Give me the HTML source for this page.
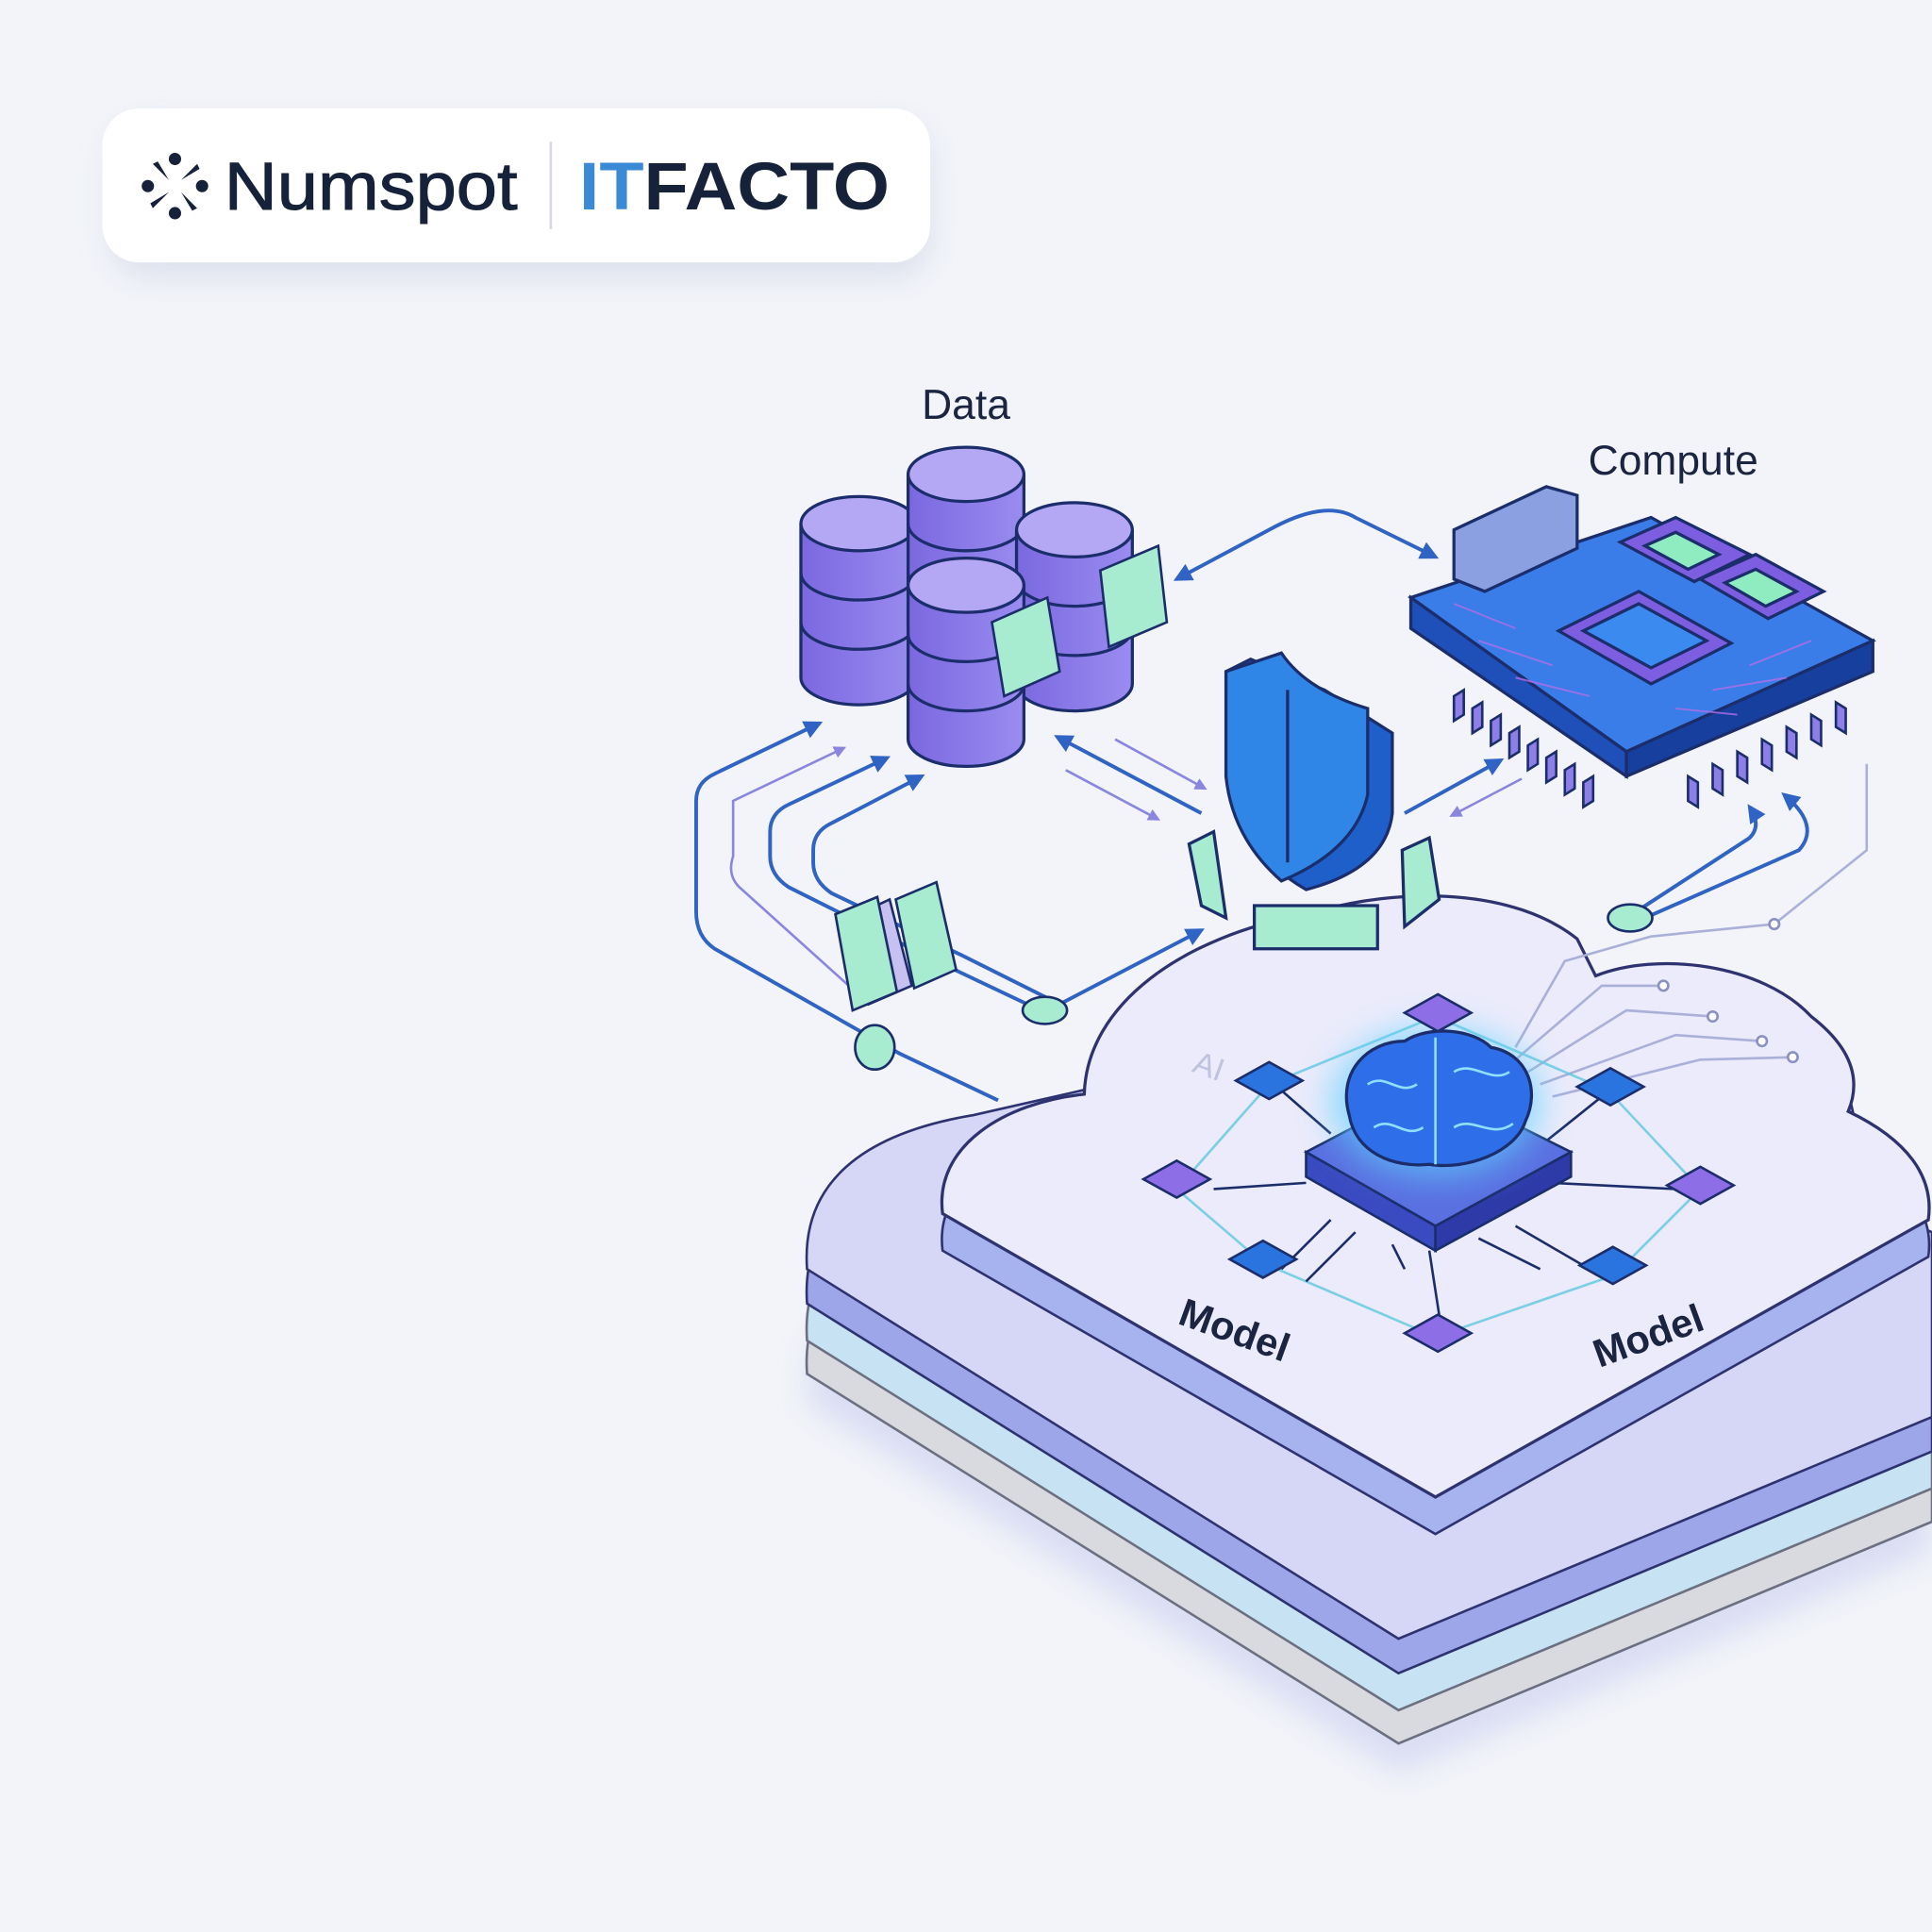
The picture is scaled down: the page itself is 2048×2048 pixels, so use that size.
<!DOCTYPE html>
<html><head><meta charset="utf-8"><style>
html,body{margin:0;padding:0;background:#f2f4f9;}
svg{display:block}
text{font-family:"Liberation Sans",sans-serif}
</style></head><body>
<svg width="2048" height="2048" viewBox="0 0 1568 1568" xmlns="http://www.w3.org/2000/svg">
<defs>
<filter id="sh" x="-20%" y="-50%" width="140%" height="200%"><feGaussianBlur stdDeviation="12"/></filter>
<filter id="glow" x="-50%" y="-50%" width="200%" height="200%"><feGaussianBlur stdDeviation="14"/></filter>
<linearGradient id="cyl" x1="0" x2="1"><stop offset="0" stop-color="#7b68e0"/><stop offset="1" stop-color="#9a8cf0"/></linearGradient>
<marker id="ar" viewBox="0 0 10 10" refX="8" refY="5" markerWidth="5" markerHeight="5" orient="auto-start-reverse"><path d="M0,0 L10,5 L0,10 Z" fill="#2f63c4"/></marker>
<marker id="ar2" viewBox="0 0 10 10" refX="8" refY="5" markerWidth="5" markerHeight="5" orient="auto-start-reverse"><path d="M0,0 L10,5 L0,10 Z" fill="#8a86e0"/></marker>
<path id="big" d="M655,1030 C650,960 700,920 790,905 L900,880 L1400,930 L1568,1000 L1568,1150 L1135,1330 Z"/>
<path id="top" d="M765,985 C758,930 815,895 880,888 C882,815 960,760 1060,742 C1140,718 1230,722 1280,762 L1295,792 C1345,772 1430,782 1470,825 C1505,852 1510,878 1500,902 C1548,925 1570,955 1565,990 L1165,1215 Z"/>
</defs>
<rect width="1568" height="1568" fill="#f2f4f9"/>

<!-- logo card -->
<rect x="90" y="100" width="665" height="125" rx="30" fill="#c8cde0" opacity="0.5" filter="url(#sh)"/>
<rect x="83" y="88" width="672" height="125" rx="30" fill="#fff"/>
<g fill="#16213a" transform="translate(142,151)">
<circle cx="0" cy="-22" r="5"/><circle cx="0" cy="22" r="5"/><circle cx="-22" cy="0" r="5"/><circle cx="22" cy="0" r="5"/>
<path d="M-5,-5 L-18,-18 L-14,-20 Z M5,-5 L18,-18 L20,-14 Z M-5,5 L-18,18 L-20,14 Z M5,5 L18,18 L14,20 Z"/>
</g>
<text x="182" y="170" font-size="55" fill="#16213a" stroke="#16213a" stroke-width="0.8" textLength="238" lengthAdjust="spacingAndGlyphs">Numspot</text>
<line x1="447" y1="115" x2="447" y2="186" stroke="#d5d8e0" stroke-width="2"/>
<text x="470" y="170" font-size="55" font-weight="bold" fill="#16213a" textLength="252" lengthAdjust="spacingAndGlyphs"><tspan fill="#3b8ad6">IT</tspan>FACTO</text>

<!-- lower stacked layers -->
<g transform="translate(0,110)"><use href="#big" fill="#c4c8ee" opacity="0.5" filter="url(#sh)"/></g>
<g transform="translate(0,85)"><use href="#big" fill="#d8dae0" stroke="#6b6f80" stroke-width="2"/></g>
<g transform="translate(0,58)"><use href="#big" fill="#c7e3f3" stroke="#6b6f80" stroke-width="2"/></g>
<g transform="translate(0,28)"><use href="#big" fill="#9ea6ea" stroke="#2e3370" stroke-width="2"/></g>
<use href="#big" fill="#d6d7f6" stroke="#2e3370" stroke-width="2"/>
<!-- top cloud -->
<g transform="translate(0,30)"><use href="#top" fill="#a7b3ef" stroke="#2e3370" stroke-width="2"/></g>
<use href="#top" fill="#ebebfb" stroke="#2e3370" stroke-width="2.5"/>

<!-- circuit lines on cloud -->
<g stroke="#aab0d8" stroke-width="2" fill="none">
<path d="M1230,860 L1300,800 L1350,800"/><path d="M1240,870 L1320,820 L1390,825"/><path d="M1250,880 L1360,840 L1430,845"/><path d="M1260,890 L1380,860 L1455,858"/><path d="M1230,850 L1270,780 L1340,760 L1440,750 L1515,690 L1515,620"/>
</g>
<g fill="#fff" stroke="#8a90c0" stroke-width="2"><circle cx="1350" cy="800" r="4"/><circle cx="1390" cy="825" r="4"/><circle cx="1430" cy="845" r="4"/><circle cx="1455" cy="858" r="4"/><circle cx="1440" cy="750" r="4"/></g>

<!-- network -->
<g stroke="#5fc8e0" stroke-width="2" fill="none" opacity="0.8">
<path d="M1030,880 L955,965 L1025,1025 L1165,1085 L1310,1035 L1380,965 L1305,885 L1165,825 Z"/>
</g>
<g stroke="#1b2d6b" stroke-width="2" fill="none">
<path d="M1060,960 L985,965 M1080,990 L1040,1030 M1100,1000 L1060,1040 M1130,1010 L1140,1030 M1160,1015 L1170,1080 M1200,1005 L1250,1030 M1230,995 L1290,1030 M1260,960 L1360,965 M1250,930 L1300,890 M1080,920 L1040,885"/>
</g>
<!-- brain chip -->
<path d="M1060,935 L1165,880 L1275,935 L1165,995 Z" fill="#5a6fe0" stroke="#1b2d6b" stroke-width="2"/>
<path d="M1060,935 L1165,995 L1165,1015 L1060,955 Z" fill="#3a4ac0" stroke="#1b2d6b" stroke-width="2"/>
<path d="M1165,995 L1275,935 L1275,955 L1165,1015 Z" fill="#2e3aa8" stroke="#1b2d6b" stroke-width="2"/>
<ellipse cx="1165" cy="895" rx="85" ry="60" fill="#5fd0ff" opacity="0.7" filter="url(#glow)"/>
<path d="M1095,905 C1085,870 1110,845 1140,845 C1160,832 1195,835 1210,850 C1240,855 1250,885 1238,910 C1230,935 1190,950 1160,945 C1130,948 1100,935 1095,905 Z" fill="#2e6ee8" stroke="#1b2d6b" stroke-width="2.5"/>
<path d="M1165,842 L1165,945 M1110,880 C1125,870 1135,890 1150,880 M1180,870 C1195,860 1210,880 1225,870 M1115,915 C1130,905 1140,925 1155,915 M1180,915 C1195,905 1210,925 1228,912" stroke="#8fe0ff" stroke-width="2" fill="none"/>
<!-- nodes -->
<g stroke="#1b2d6b" stroke-width="2">
<g fill="#2a74e0"><path d="M1003,877 L1030,862 L1057,877 L1030,892 Z"/><path d="M1280,882 L1307,867 L1334,882 L1307,897 Z"/><path d="M998,1022 L1025,1007 L1052,1022 L1025,1037 Z"/><path d="M1282,1027 L1309,1012 L1336,1027 L1309,1042 Z"/></g>
<g fill="#8e6ee6"><path d="M928,957 L955,942 L982,957 L955,972 Z"/><path d="M1353,962 L1380,947 L1407,962 L1380,977 Z"/><path d="M1140,1082 L1167,1067 L1194,1082 L1167,1097 Z"/><path d="M1140,822 L1167,807 L1194,822 L1167,837 Z"/></g>
</g>
<text x="1000" y="1090" font-size="32" font-weight="bold" fill="#1b2440" text-anchor="middle" transform="rotate(20 1000 1085)">Model</text>
<text x="1338" y="1095" font-size="32" font-weight="bold" fill="#1b2440" text-anchor="middle" transform="rotate(-20 1338 1085)">Model</text>
<text x="970" y="870" font-size="26" fill="#c0c3de" transform="rotate(20 970 860)">AI</text>

<!-- connectors -->
<g fill="none" stroke="#2f63c4" stroke-width="3">
<path d="M810,893 L730,855 L580,770 Q565,760 565,740 L565,650 Q565,635 580,628 L665,587" marker-end="url(#ar)"/>
<path d="M840,818 L760,780 L640,720 Q625,710 625,695 L625,675 Q625,660 640,653 L720,615" marker-end="url(#ar)"/>
<path d="M860,815 L780,775 L675,725 Q660,715 660,700 L660,690 Q660,675 675,668 L748,630" marker-end="url(#ar)"/>
<path d="M860,815 L975,755" marker-end="url(#ar)"/>
<path d="M955,470 L1030,430 Q1075,405 1100,420 L1165,452" marker-start="url(#ar)" marker-end="url(#ar)"/>
<path d="M858,598 L975,660" marker-start="url(#ar)"/>
<path d="M1140,660 L1218,617" marker-end="url(#ar)"/>
<path d="M1320,745 L1420,680 Q1430,670 1420,655" marker-end="url(#ar)"/>
<path d="M1335,745 L1460,690 Q1478,670 1448,645" marker-end="url(#ar)"/>
</g>
<g fill="none" stroke="#8a86e0" stroke-width="2">
<path d="M700,810 L600,720 Q590,710 595,695 L595,650 L685,607" marker-end="url(#ar2)"/>
<path d="M905,600 L978,640" marker-end="url(#ar2)"/>
<path d="M865,625 L940,665" marker-end="url(#ar2)"/>
<path d="M1235,632 L1178,662" marker-end="url(#ar2)"/>
</g>
<g fill="#a7ecd0" stroke="#1b2d6b" stroke-width="2">
<ellipse cx="848" cy="820" rx="18" ry="11"/><ellipse cx="1323" cy="745" rx="18" ry="11"/><ellipse cx="710" cy="850" rx="16" ry="18"/>
</g>
<!-- docs -->
<g stroke="#1b2d6b" stroke-width="2">
<path d="M690,745 L722,730 L740,800 L705,815 Z" fill="#c7c1f2"/>
<path d="M678,742 L712,728 L728,805 L692,820 Z" fill="#a7ecd0"/>
<path d="M727,730 L760,716 L776,787 L742,802 Z" fill="#a7ecd0"/>
</g>

<!-- cylinders -->
<g stroke="#1b2d6b" stroke-width="2.5">
<g id="cyl1"><path d="M650,425 L650,550 A47,22 0 0 0 744,550 L744,425" fill="url(#cyl)"/><ellipse cx="697" cy="425" rx="47" ry="22" fill="#b4a8f5"/><path d="M650,465 A47,22 0 0 0 744,465 M650,505 A47,22 0 0 0 744,505" fill="none"/></g>
<use href="#cyl1" transform="translate(87,-40)"/>
<use href="#cyl1" transform="translate(175,5)"/>
<use href="#cyl1" transform="translate(87,50)"/>
</g>
<g stroke="#1b2d6b" stroke-width="2">
<path d="M805,505 L850,485 L860,545 L815,565 Z" fill="#a7ecd0"/>
<path d="M893,463 L940,443 L947,505 L900,525 Z" fill="#a7ecd0"/>
</g>
<text x="784" y="340" font-size="34" fill="#1b2440" text-anchor="middle">Data</text>

<!-- shield -->
<g stroke="#1b2d6b" stroke-width="2.5">
<path d="M965,685 L985,675 L995,745 L975,735 Z" fill="#a7ecd0"/>
<path d="M1138,690 L1160,680 L1168,730 L1140,752 Z" fill="#a7ecd0"/>
<path d="M1018,735 L1118,735 L1118,770 L1018,770 Z" fill="#a7ecd0"/>
<path d="M1015,535 L1075,560 L1130,595 L1130,660 Q1125,705 1060,722 Q1005,690 995,630 L995,545 Z" fill="#1f5fc9"/>
<path d="M995,545 L1040,530 Q1060,560 1110,575 L1110,645 Q1100,690 1040,715 Q1000,680 995,630 Z" fill="#2f86e6"/>
<path d="M1045,560 L1045,700" stroke="#1b2d6b"/>
</g>

<!-- compute board -->
<g stroke="#1b2d6b" stroke-width="2.5">
<path d="M1145,485 L1340,420 L1520,520 L1320,610 Z" fill="#3a7de8"/>
<path d="M1145,485 L1320,610 L1320,630 L1145,510 Z" fill="#1f4fb8"/>
<path d="M1320,610 L1520,520 L1520,545 L1320,630 Z" fill="#163f9e"/>
<path d="M1265,512 L1330,480 L1405,522 L1340,555 Z" fill="#7e5ee0"/>
<path d="M1285,512 L1330,490 L1385,520 L1340,542 Z" fill="#3a8af0"/>
<path d="M1315,440 L1360,420 L1420,450 L1375,472 Z" fill="#7e5ee0"/>
<path d="M1335,443 L1360,432 L1395,450 L1370,462 Z" fill="#8fecc0"/>
<path d="M1380,470 L1425,450 L1480,480 L1435,502 Z" fill="#7e5ee0"/>
<path d="M1400,473 L1425,462 L1458,480 L1433,492 Z" fill="#8fecc0"/>
<path d="M1180,430 L1255,395 L1280,402 L1280,445 L1205,480 L1180,470 Z" fill="#8aa0e0"/>
</g>
<g stroke="#b06ee8" stroke-width="1.5" fill="none" opacity="0.8">
<path d="M1180,490 L1230,510 M1200,520 L1260,540 M1230,550 L1290,565 M1420,540 L1470,520 M1390,560 L1450,550 M1360,575 L1410,580"/>
</g>
<g stroke="#1b2d6b" stroke-width="2" fill="#8d7ee8">
<path d="M1180,565 l8,-5 0,20 -8,5 Z M1195,575 l8,-5 0,20 -8,5 Z M1210,585 l8,-5 0,20 -8,5 Z M1225,595 l8,-5 0,20 -8,5 Z M1240,605 l8,-5 0,20 -8,5 Z M1255,615 l8,-5 0,20 -8,5 Z M1270,625 l8,-5 0,20 -8,5 Z M1285,635 l8,-5 0,20 -8,5 Z"/>
<path d="M1370,630 l8,5 0,20 -8,-5 Z M1390,620 l8,5 0,20 -8,-5 Z M1410,610 l8,5 0,20 -8,-5 Z M1430,600 l8,5 0,20 -8,-5 Z M1450,590 l8,5 0,20 -8,-5 Z M1470,580 l8,5 0,20 -8,-5 Z M1490,570 l8,5 0,20 -8,-5 Z"/>
</g>
<text x="1358" y="385" font-size="34" fill="#1b2440" text-anchor="middle">Compute</text>
</svg>
</body></html>
